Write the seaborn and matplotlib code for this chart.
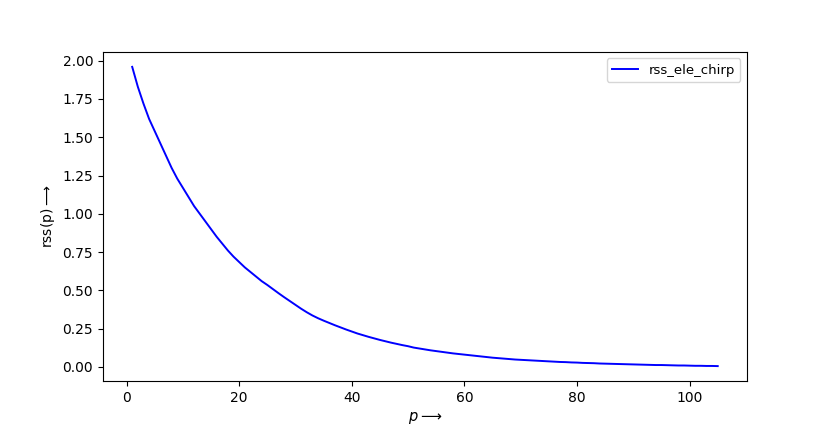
import numpy as np
import pandas as pd
import seaborn as sns
import matplotlib
matplotlib.use('Agg')
import matplotlib.pyplot as plt

# rss values, one per order p = 1..105
p_values = list(range(1, 106))
rss_values = [
    1.96, 1.83, 1.72, 1.62, 1.54, 1.46, 1.38, 1.30, 1.23, 1.17,
    1.11, 1.05, 1.00, 0.95, 0.90, 0.85, 0.805, 0.76, 0.72, 0.685,
    0.65, 0.62, 0.59, 0.56, 0.535, 0.508, 0.481, 0.455, 0.43, 0.405,
    0.38, 0.357, 0.336, 0.318, 0.302, 0.287, 0.272, 0.258, 0.244, 0.231,
    0.218, 0.207, 0.196, 0.186, 0.176, 0.167, 0.158, 0.150, 0.142, 0.135,
    0.126, 0.120, 0.114, 0.108, 0.103, 0.098, 0.093, 0.088, 0.084, 0.080,
    0.076, 0.072, 0.068, 0.064, 0.060, 0.057, 0.054, 0.051, 0.048, 0.046,
    0.044, 0.042, 0.040, 0.038, 0.036, 0.034, 0.032, 0.031, 0.029, 0.028,
    0.026, 0.025, 0.024, 0.022, 0.021, 0.020, 0.019, 0.018, 0.017, 0.016,
    0.015, 0.014, 0.013, 0.012, 0.012, 0.011, 0.010, 0.009, 0.009, 0.008,
    0.007, 0.007, 0.006, 0.006, 0.005,
]
series_name = 'rss_ele_chirp'

df = pd.DataFrame({'p': p_values, 'rss': rss_values})

fig = plt.figure(figsize=(8.3, 4.36), dpi=100)
ax = fig.add_subplot(111)
fig.subplots_adjust(left=0.124, right=0.9, top=0.881, bottom=0.126)

sns.lineplot(x='p', y='rss', data=df, color='blue', linewidth=1.4, label=series_name, ax=ax)

ax.set_xlabel(r'$p \longrightarrow$', fontsize=10.5)
ax.set_ylabel(r'rss(p)$\longrightarrow$', fontsize=10)
ax.tick_params(labelsize=10)
ax.legend(loc='upper right', fontsize=9.5)

fig.savefig('out.png', dpi=100)
